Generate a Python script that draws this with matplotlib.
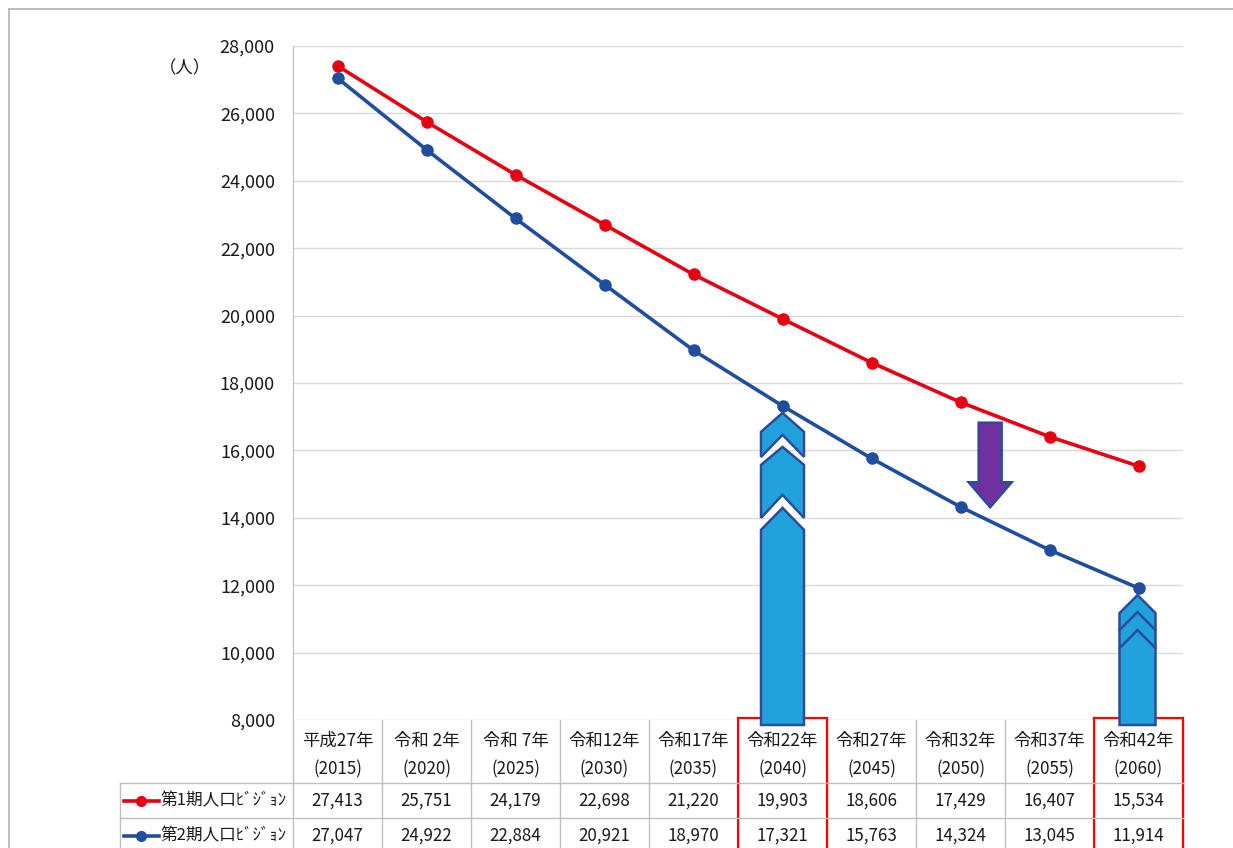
import matplotlib
matplotlib.use("Agg")
import matplotlib.pyplot as plt
from matplotlib.patches import Polygon
from matplotlib.lines import Line2D
from matplotlib.transforms import blended_transform_factory
import numpy as np

plt.rcParams['font.family'] = ['Noto Sans CJK JP', 'DejaVu Sans']

# ---- data -------------------------------------------------------------
era_labels = ["平成27年", "令和 2年", "令和 7年", "令和12年", "令和17年",
              "令和22年", "令和27年", "令和32年", "令和37年", "令和42年"]
years = [2015, 2020, 2025, 2030, 2035, 2040, 2045, 2050, 2055, 2060]
vision1 = [27413, 25751, 24179, 22698, 21220, 19903, 18606, 17429, 16407, 15534]
vision2 = [27047, 24922, 22884, 20921, 18970, 17321, 15763, 14324, 13045, 11914]
series_names = ["第1期人口ﾋﾞｼﾞｮﾝ", "第2期人口ﾋﾞｼﾞｮﾝ"]
highlight_years = [2040, 2060]
y_ticks = list(range(8000, 28001, 2000))
unit_label = "（人）"

# ---- style ------------------------------------------------------------
RED = "#E60012"
BLUE = "#1F4E9E"
ARROW_FILL = "#22A2DC"
ARROW_EDGE = "#2A4C9C"
PURPLE = "#7030A0"
GRID = "#D9D9D9"
TABLE_LINE = "#BFBFBF"
TEXT = "#1A1A1A"
FS_TABLE = 12.2

W, H = 1233, 848
fig = plt.figure(figsize=(W / 100, H / 100), dpi=100)


def fx(px):
    return px / W


def fy(py):
    return 1 - py / H


# outer frame
fig.add_artist(Line2D([fx(9), fx(9)], [fy(9), fy(860)], transform=fig.transFigure,
                      color="#B0B0B0", lw=1.2))
fig.add_artist(Line2D([fx(9), fx(1240)], [fy(9), fy(9)], transform=fig.transFigure,
                      color="#B0B0B0", lw=1.2))

ax = fig.add_axes([fx(293), fy(720), fx(1183) - fx(293), fy(46) - fy(720)])
x = np.arange(len(years))
ax.set_xlim(-0.5, len(years) - 0.5)
ax.set_ylim(y_ticks[0], y_ticks[-1])
ax.set_yticks(y_ticks)
ax.set_yticklabels([f"{v:,}" for v in y_ticks], fontsize=13, color=TEXT)
ax.tick_params(axis='y', length=0, pad=13)
ax.set_xticks([])
for s in ['top', 'right', 'bottom']:
    ax.spines[s].set_visible(False)
ax.spines['left'].set_color(TABLE_LINE)
ax.yaxis.grid(True, color=GRID, lw=1)
ax.set_axisbelow(True)

fig.text(fx(185), fy(68), unit_label, ha='center', va='center', fontsize=12.5, color=TEXT)

ax.plot(x, vision1, color=RED, lw=2.6, marker='o', ms=8, zorder=4, clip_on=False)
ax.plot(x, vision2, color=BLUE, lw=2.6, marker='o', ms=8, zorder=4, clip_on=False)

# pixel -> data unit factors
px_x = (len(years)) / 890.0
px_y = (y_ticks[-1] - y_ticks[0]) / 674.0
base = y_ticks[0] - 5 * px_y


def chevron(cx, hw, peak, depth, bottom, notch=None):
    """Upward chevron block outline."""
    if notch is None:
        pts = [(cx, peak), (cx + hw, peak - depth), (cx + hw, bottom),
               (cx - hw, bottom), (cx - hw, peak - depth)]
    else:
        pts = [(cx, peak), (cx + hw, peak - depth), (cx + hw, bottom),
               (cx, notch), (cx - hw, bottom), (cx - hw, peak - depth)]
    return pts


def add_poly(pts, fc, ec, lw=1.8, z=6):
    ax.add_patch(Polygon(pts, closed=True, facecolor=fc, edgecolor=ec, lw=lw,
                         joinstyle='miter', zorder=z, clip_on=False))


# stacked chevron arrow under 2040
i40 = years.index(highlight_years[0])
v40 = vision2[i40]
hw = 21.5 * px_x
for pk, sh, bs, nt in [(7, 26, 51, 29), (41, 59, 112, 89)]:
    add_poly(chevron(i40, hw, v40 - pk * px_y, (sh - pk) * px_y,
                     v40 - bs * px_y, v40 - nt * px_y), ARROW_FILL, ARROW_EDGE)
add_poly(chevron(i40, hw, v40 - 102 * px_y, 22 * px_y, base), ARROW_FILL, ARROW_EDGE)

# arrow under 2060 with inner chevron strokes
i60 = years.index(highlight_years[1])
v60 = vision2[i60]
hw2 = 18 * px_x
cx60 = i60 - 1 * px_x
add_poly(chevron(cx60, hw2, v60 - 7 * px_y, 18 * px_y, base), ARROW_FILL, ARROW_EDGE)
for pk in (24, 42):
    ax.plot([cx60 - hw2, cx60, cx60 + hw2],
            [v60 - (pk + 18) * px_y, v60 - pk * px_y, v60 - (pk + 18) * px_y],
            color=ARROW_EDGE, lw=1.8, zorder=7, solid_joinstyle='miter', clip_on=False)

# purple down arrow between the two series
xa = 7 + 1 / 3
top = np.interp(xa, x, vision1) - 9 * px_y
tip = np.interp(xa, x, vision2) + 14 * px_y
head = tip + 25 * px_y
sw, hw3 = 11.5 * px_x, 21.5 * px_x
add_poly([(xa - sw, top), (xa + sw, top), (xa + sw, head), (xa + hw3, head),
          (xa, tip), (xa - hw3, head), (xa - sw, head)], PURPLE, ARROW_EDGE)

# ---- data table -------------------------------------------------------
tb = blended_transform_factory(ax.transData, fig.transFigure)
for b in np.arange(-0.5, len(years), 1.0):
    ax.add_line(Line2D([b, b], [fy(720), fy(860)], transform=tb, color=TABLE_LINE,
                       lw=1, clip_on=False, zorder=2))
for py in (783, 818):
    fig.add_artist(Line2D([fx(120), fx(1183)], [fy(py), fy(py)],
                          transform=fig.transFigure, color=TABLE_LINE, lw=1))
fig.add_artist(Line2D([fx(120), fx(120)], [fy(783), fy(860)],
                      transform=fig.transFigure, color=TABLE_LINE, lw=1))

for i in x:
    ax.text(i, fy(741), era_labels[i], transform=tb, ha='center', va='center',
            fontsize=12.5, color=TEXT)
    ax.text(i, fy(769), f"({years[i]})", transform=tb, ha='center', va='center',
            fontsize=FS_TABLE, color=TEXT)
    ax.text(i, fy(801), f"{vision1[i]:,}", transform=tb, ha='center', va='center',
            fontsize=FS_TABLE, color=TEXT)
    ax.text(i, fy(836), f"{vision2[i]:,}", transform=tb, ha='center', va='center',
            fontsize=FS_TABLE, color=TEXT)

for name, color, py in [(series_names[0], RED, 801), (series_names[1], BLUE, 836)]:
    fig.add_artist(Line2D([fx(124), fx(159)], [fy(py), fy(py)], transform=fig.transFigure,
                          color=color, lw=2.6))
    fig.add_artist(Line2D([fx(141)], [fy(py)], transform=fig.transFigure, color=color,
                          marker='o', ms=7, lw=0))
    fig.text(fx(160), fy(py), name, ha='left', va='center', fontsize=12, color=TEXT)

# red highlight boxes
for yr in highlight_years:
    i = years.index(yr)
    l, r = i - 0.5, i + 0.5
    for xs, ys in [([l, l], [fy(718), fy(860)]), ([r, r], [fy(718), fy(860)]),
                   ([l, r], [fy(718), fy(718)])]:
        ax.add_line(Line2D(xs, ys, transform=tb, color="#FF0000", lw=1.6,
                           clip_on=False, zorder=5))

fig.savefig("out.png", dpi=100)
